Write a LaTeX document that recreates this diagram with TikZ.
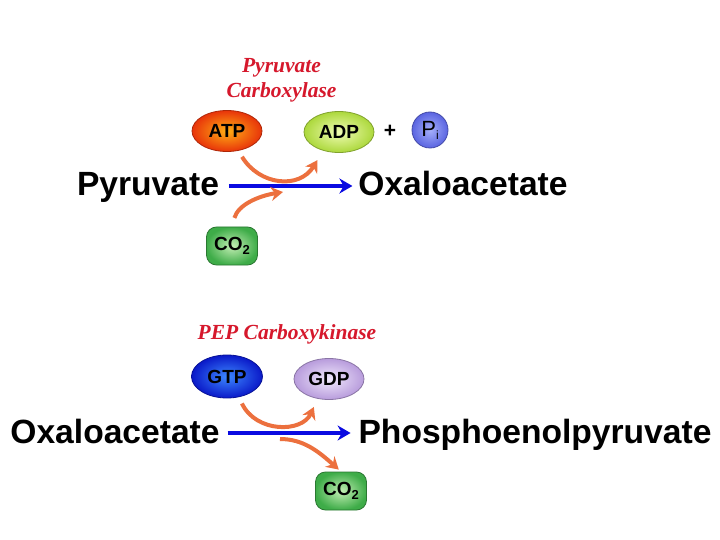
\documentclass[tikz,border=0pt]{standalone}
\usepackage{fontspec}
\setmainfont{Liberation Sans}
\newfontfamily\enzfont{Liberation Serif}
\usetikzlibrary{arrows.meta,shapes.geometric}
\definecolor{enzred}{RGB}{214,24,44}
\definecolor{curveorange}{RGB}{236,112,62}
\definecolor{flowblue}{RGB}{10,10,225}
\definecolor{atpin}{RGB}{255,175,20}
\definecolor{atpout}{RGB}{232,52,10}
\definecolor{adpin}{RGB}{240,252,180}
\definecolor{adpout}{RGB}{172,216,60}
\definecolor{gtpin}{RGB}{60,135,255}
\definecolor{gtpout}{RGB}{10,25,200}
\definecolor{gdpin}{RGB}{240,232,252}
\definecolor{gdpout}{RGB}{184,156,220}
\definecolor{gasin}{RGB}{195,238,180}
\definecolor{gasout}{RGB}{62,172,72}
\definecolor{piin}{RGB}{165,175,250}
\definecolor{piout}{RGB}{90,100,225}
\tikzset{
  metabolite/.style={font=\fontsize{33.6}{34}\selectfont\bfseries,text height=25pt,text depth=5pt,inner sep=0pt,outer sep=0pt},
  enzyme/.style={font=\enzfont\fontsize{21.5}{25}\selectfont\bfseries\itshape,text=enzred,inner sep=0pt},
  cofactor/.style={ellipse,font=\fontsize{19}{20}\selectfont\bfseries,inner sep=0pt,minimum width=70pt,minimum height=41pt,line width=.8pt},
  gasbox/.style={rectangle,rounded corners=10pt,font=\fontsize{19}{20}\selectfont\bfseries,inner sep=0pt,
    minimum width=51pt,minimum height=38pt,draw=gasout!70!black,line width=.8pt,inner color=gasin,outer color=gasout},
  flow/.style={draw=flowblue,line width=3.2pt,-{Stealth[length=13pt,width=15pt]}},
  sidecurve/.style={draw=curveorange,line width=4pt,-{Stealth[length=12pt,width=14pt]}}
}
\begin{document}
\begin{tikzpicture}[x=1pt,y=-1pt]
\useasboundingbox[fill=white] (0,0) rectangle (720,540);

\node[enzyme,align=center] (pc) at (281.5,80) {Pyruvate\\Carboxylase};
\node[cofactor,draw=atpout!75!black,inner color=atpin,outer color=atpout] (atp) at (227,131) {ATP};
\node[cofactor,draw=adpout!75!black,inner color=adpin,outer color=adpout] (adp) at (339,132) {ADP};
\node[font=\fontsize{21}{21}\selectfont\bfseries] (plus) at (390,131) {+};
\node[circle,draw=piout!75!black,line width=.8pt,inner color=piin,outer color=piout,minimum size=36pt,inner sep=0pt,font=\fontsize{22}{22}\selectfont] (pi) at (430,130) {P\raisebox{-3pt}{\fontsize{12}{12}\selectfont i}};
\node[metabolite] (pyr) at (148,186) {Pyruvate};
\node[metabolite] (oaa) at (463,186) {Oxaloacetate};
\node[gasbox] (co) at (232,246) {CO\raisebox{-4pt}{\fontsize{13}{13}\selectfont 2}};
\coordinate (cojoin) at (283,192);

\draw[flow,shorten <=10pt,shorten >=6pt] (pyr.east) -- (oaa.west);
\draw[sidecurve,shorten <=7pt,shorten >=11pt] (atp.-60) .. controls (259,185) and (299,190) .. (adp.-130);
\draw[sidecurve,shorten <=9pt] (co.north) .. controls (238,205) and (258,196) .. (cojoin);

\node[enzyme] (pepck) at (287,334) {PEP Carboxykinase};
\node[cofactor,draw=gtpout!75!black,inner color=gtpin,outer color=gtpout,minimum width=71pt,minimum height=43pt] (gtp) at (227,376.5) {GTP};
\node[cofactor,draw=gdpout!75!black,inner color=gdpin,outer color=gdpout] (gdp) at (329,379) {GDP};
\node[metabolite] (oaab) at (115,433) {Oxaloacetate};
\node[metabolite] (pep) at (535,433) {Phosphoenolpyruvate};
\node[gasbox] (cob) at (341,491) {CO\raisebox{-4pt}{\fontsize{13}{13}\selectfont 2}};
\coordinate (cosplit) at (280,439);

\draw[flow,shorten <=8pt,shorten >=8pt] (oaab.east) -- (pep.west);
\draw[sidecurve,shorten <=7pt,shorten >=9pt] (gtp.-60) .. controls (256,433) and (302,433) .. (gdp.-120);
\draw[sidecurve,shorten >=3pt] (cosplit) .. controls (303,439) and (318,451) .. (cob.north);
\end{tikzpicture}
\end{document}
